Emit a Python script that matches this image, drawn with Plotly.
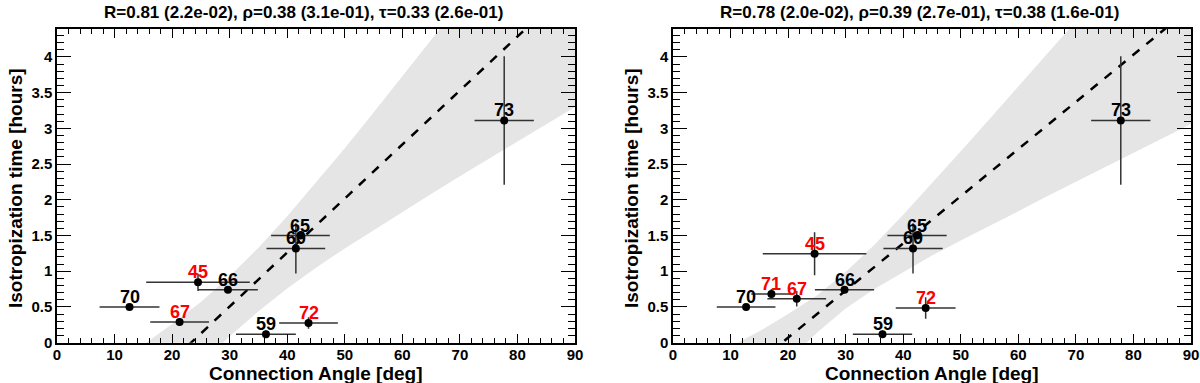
import plotly.graph_objects as go

W, H = 1200, 383

# ---------------- data: left panel ----------------
L_ids = ["70", "67", "45", "66", "60", "65", "59", "72", "73"]
L_angle = [12.6, 21.3, 24.5, 29.7, 41.5, 42.3, 36.3, 43.7, 77.7]
L_angle_err = [5.2, 5.1, 9.0, 5.2, 5.1, 5.1, 5.2, 5.1, 5.15]
L_time = [0.50, 0.29, 0.845, 0.74, 1.32, 1.50, 0.12, 0.275, 3.11]
L_time_err = [0.02, 0.05, 0.12, 0.03, 0.35, 0.05, 0.05, 0.08, 0.90]
L_fit_x = [0, 90]
L_fit_y = [-1.76, 5.04]
L_band_x = [0, 10, 15, 20, 25, 30, 35, 40, 45, 50, 55, 60, 65, 70, 80, 90]
L_band_hi = [-0.82, -0.30, -0.03, 0.26, 0.57, 0.93, 1.33, 1.77, 2.24, 2.72, 3.22, 3.72, 4.22, 4.73, 5.76, 6.78]
L_band_lo = [-2.71, -1.71, -1.22, -0.75, -0.31, 0.09, 0.44, 0.76, 1.05, 1.32, 1.58, 1.83, 2.08, 2.33, 2.82, 3.30]
L_title = "R=0.81 (2.2e-02), ρ=0.38 (3.1e-01), τ=0.33 (2.6e-01)"

# ---------------- data: right panel ----------------
R_ids = ["70", "71", "67", "45", "66", "60", "65", "59", "72", "73"]
R_angle = [12.7, 17.1, 21.5, 24.6, 29.8, 41.7, 42.4, 36.4, 43.9, 77.8]
R_angle_err = [5.1, 3.5, 5.1, 9.0, 5.15, 5.15, 5.15, 5.15, 5.2, 5.15]
R_time = [0.50, 0.68, 0.615, 1.245, 0.74, 1.32, 1.50, 0.12, 0.485, 3.11]
R_time_err = [0.02, 0.07, 0.11, 0.30, 0.03, 0.35, 0.05, 0.05, 0.15, 0.90]
R_fit_x = [0, 90]
R_fit_y = [-1.25, 4.69]
R_band_x = [0, 10, 15, 20, 25, 30, 35, 40, 45, 50, 55, 60, 65, 70, 80, 90]
R_band_hi = [-0.48, -0.06, 0.16, 0.40, 0.66, 0.99, 1.37, 1.79, 2.23, 2.68, 3.13, 3.58, 4.04, 4.49, 5.41, 6.32]
R_band_lo = [-2.02, -1.12, -0.68, -0.25, 0.14, 0.48, 0.75, 0.99, 1.22, 1.43, 1.64, 1.84, 2.05, 2.25, 2.66, 3.06]
R_title = "R=0.78 (2.0e-02), ρ=0.39 (2.7e-01), τ=0.38 (1.6e-01)"

RED_IDS = {"45", "67", "71", "72"}

X_TITLE = "Connection Angle [deg]"
Y_TITLE = "Isotropization time [hours]"

FONT = "Liberation Sans, Arial, sans-serif"
BAND = "#e5e5e5"
ERR = "#333333"

# pixel frame geometry (page pixels)
LEFT_X = (57, 575)
RIGHT_X = (673, 1191)
Y_PIX = (29, 342.7)  # top, bottom


def px(v):
    return v / W


def py(v):
    return 1 - v / H


fig = go.Figure()
ann = []


def add_panel(xa, ya, ids, ang, ang_err, t, t_err, fx, fy, bx, bhi, blo):
    fig.add_trace(go.Scatter(
        x=bx + bx[::-1], y=bhi + blo[::-1], fill="toself", fillcolor=BAND,
        line=dict(width=0), mode="lines", hoverinfo="skip", showlegend=False,
        xaxis=xa, yaxis=ya))
    fig.add_trace(go.Scatter(
        x=fx, y=fy, mode="lines", line=dict(color="black", width=2.5, dash="dash"),
        showlegend=False, xaxis=xa, yaxis=ya))
    fig.add_trace(go.Scatter(
        x=ang, y=t, mode="markers",
        marker=dict(color="black", size=8),
        error_x=dict(type="data", array=ang_err, color=ERR, thickness=1.5, width=0),
        error_y=dict(type="data", array=t_err, color=ERR, thickness=1.5, width=0),
        showlegend=False, cliponaxis=False, xaxis=xa, yaxis=ya))
    for i, xv, yv in zip(ids, ang, t):
        ann.append(dict(x=xv, y=yv, xref=xa, yref=ya, text=i, showarrow=False,
                        xanchor="center", yanchor="middle", yshift=10,
                        font=dict(family=FONT, size=18, weight="bold",
                                  color="red" if i in RED_IDS else "black")))


add_panel("x", "y", L_ids, L_angle, L_angle_err, L_time, L_time_err,
          L_fit_x, L_fit_y, L_band_x, L_band_hi, L_band_lo)
add_panel("x2", "y2", R_ids, R_angle, R_angle_err, R_time, R_time_err,
          R_fit_x, R_fit_y, R_band_x, R_band_hi, R_band_lo)

ydom = [py(Y_PIX[1]), py(Y_PIX[0])]

xax = dict(range=[0, 90], dtick=10, tick0=0, showgrid=False, zeroline=False,
           showline=True, linecolor="black", linewidth=1.5, mirror="allticks",
           ticks="inside", ticklen=9, tickwidth=1.2, tickcolor="black",
           automargin=False, ticklabelstandoff=-2,
           minor=dict(ticks="inside", dtick=2, ticklen=5, tickwidth=1, tickcolor="black"),
           tickfont=dict(family=FONT, size=15, color="black", weight="bold"))
yax = dict(range=[0, 4.39], dtick=0.5, tick0=0, showgrid=False, zeroline=False,
           showline=True, linecolor="black", linewidth=1.5, mirror="allticks",
           ticks="inside", ticklen=14, tickwidth=1.2, tickcolor="black",
           automargin=False,
           minor=dict(ticks="inside", dtick=0.1, ticklen=7, tickwidth=1, tickcolor="black"),
           tickfont=dict(family=FONT, size=15, color="black", weight="bold"))

fig.update_layout(
    width=W, height=H, margin=dict(l=0, r=0, t=0, b=0),
    paper_bgcolor="white", plot_bgcolor="white", showlegend=False,
    xaxis=dict(xax, domain=[px(LEFT_X[0]), px(LEFT_X[1])], anchor="y"),
    yaxis=dict(yax, domain=ydom, anchor="x"),
    xaxis2=dict(xax, domain=[px(RIGHT_X[0]), px(RIGHT_X[1])], anchor="y2"),
    yaxis2=dict(yax, domain=ydom, anchor="x2"),
)

for (x0, x1), title in [(LEFT_X, L_title), (RIGHT_X, R_title)]:
    cx = (x0 + x1) / 2
    ann.append(dict(x=px(cx - 13), y=py(12), xref="paper", yref="paper",
                    text=title, showarrow=False, xanchor="center", yanchor="middle",
                    font=dict(family=FONT, size=17, color="black", weight="bold")))
    ann.append(dict(x=px(cx), y=py(373), xref="paper", yref="paper",
                    text=X_TITLE, showarrow=False, xanchor="center", yanchor="middle",
                    font=dict(family=FONT, size=19, color="black", weight="bold")))
    ann.append(dict(x=px(x0 - 42), y=py(188), xref="paper", yref="paper",
                    text=Y_TITLE, showarrow=False, xanchor="center", yanchor="middle",
                    textangle=-90,
                    font=dict(family=FONT, size=19, color="black", weight="bold")))
fig.update_layout(annotations=ann)

fig.write_html("out.html", config={"displayModeBar": False},
               post_script="document.body.style.margin='0';document.body.style.overflow='hidden';")
